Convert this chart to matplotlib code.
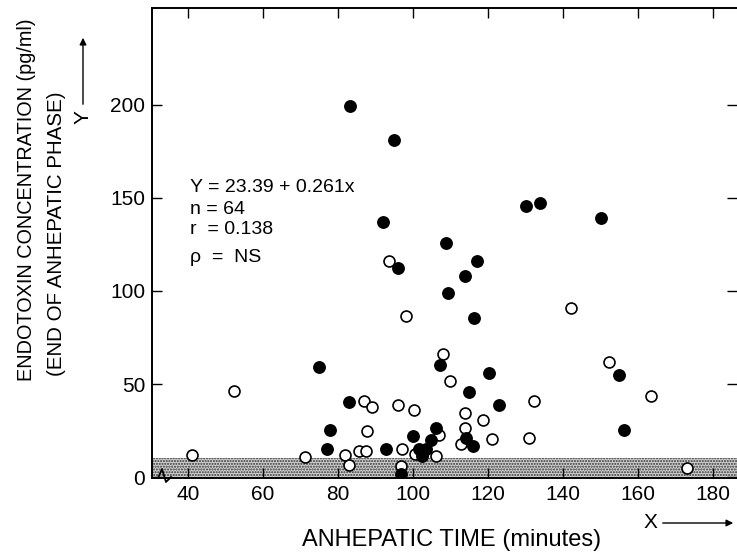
import matplotlib
matplotlib.use("Agg")
import matplotlib.pyplot as plt

plt.rcParams['font.family'] = ['Liberation Sans', 'DejaVu Sans']

# filled circles
filled_x = [83.2, 94.9, 92.0, 130.1, 133.9, 150.1, 108.8, 96.0, 117.1, 113.9,
            109.3, 116.3, 107.2, 75.0, 154.9, 156.3, 122.9, 120.2, 114.9, 106.1,
            104.8, 114.1, 116.0, 82.9, 77.9, 100.0, 77.0, 92.8, 101.6, 103.5,
            102.5, 96.8]
filled_y = [199.5, 181, 137, 145.7, 147.3, 139.2, 125.8, 112.4, 116.1, 108,
            98.9, 85.5, 60.2, 59.1, 54.8, 25.3, 38.7, 55.9, 45.7, 26.5,
            20, 21, 16.6, 40.3, 25.3, 22, 15, 15, 15, 15,
            11.5, 1.6]

# open circles
open_x = [93.6, 98.1, 108.0, 142.1, 152.3, 163.5, 173.1, 132.3, 131.0, 109.9,
          113.9, 118.7, 113.9, 106.9, 112.8, 121.0, 106.1, 86.9, 89.1, 96.0,
          100.3, 87.7, 81.9, 85.6, 87.5, 97.0, 100.5, 71.2, 82.9, 96.8,
          52.3, 41.1]
open_y = [116, 86.6, 66.1, 90.9, 61.8, 43.5, 4.8, 40.9, 21, 51.6,
          34.4, 30.8, 26.2, 22.5, 17.7, 20.4, 11.3, 40.9, 37.6, 38.7,
          36, 24.7, 11.8, 14, 14, 15, 12.4, 10.8, 6.5, 6,
          46.2, 11.8]

x_ticks = [40, 60, 80, 100, 120, 140, 160, 180]
y_ticks = [0, 50, 100, 150, 200]
stats_lines = ["Y = 23.39 + 0.261x", "n = 64", "r  = 0.138", "\u03c1  =  NS"]

W, H = 737, 556
fig = plt.figure(figsize=(W / 100, H / 100), dpi=100)
ax = fig.add_axes([152 / W, (H - 478) / H, (W - 152) / W, 470 / H])

# normal range band
ax.axhspan(0, 10, facecolor='#d0d0d0', edgecolor='#333333', hatch='......', linewidth=0, zorder=0)

ax.scatter(open_x, open_y, s=62, facecolors='white', edgecolors='black', linewidths=1.2, zorder=3)
ax.scatter(filled_x, filled_y, s=68, color='black', zorder=4)

ax.set_xlim(30.4, 186.4)
ax.set_ylim(-0.5, 252)
ax.set_xticks(x_ticks)
ax.set_yticks(y_ticks)
ax.tick_params(direction='in', top=True, right=True, length=7, width=1,
               labelsize=15, pad=5)
ax.spines['right'].set_visible(False)
for s in ['left', 'bottom', 'top']:
    ax.spines[s].set_linewidth(1.4)

# axis break mark
ax.plot([0.0103, 0.0171, 0.0239, 0.0325], [0.0, 0.019, -0.0085, 0.002],
        transform=ax.transAxes, color='black', lw=1.3, clip_on=False, zorder=5)

for i, line in enumerate(stats_lines):
    ax.text(190, H - 188 - i * 21 - (6 if i == 3 else 0), line, transform=None,
            fontsize=14, va='center', ha='left')

fig.text(27 / W, 1 - 200 / H, "ENDOTOXIN CONCENTRATION (pg/ml)", rotation=90,
         ha='center', va='center', fontsize=14.3)
fig.text(57 / W, 1 - 234 / H, "(END OF ANHEPATIC PHASE)", rotation=90,
         ha='center', va='center', fontsize=14.8)
fig.text(452 / W, 1 - 540 / H, "ANHEPATIC TIME (minutes)", ha='center', va='center', fontsize=17)

# Y / X direction arrows
fig.text(83 / W, 1 - 117 / H, "Y", rotation=90, ha='center', va='center', fontsize=15)
ax.annotate("", xy=(83, H - 35), xytext=(83, H - 107), xycoords='figure pixels',
            textcoords='figure pixels', arrowprops=dict(arrowstyle='-|>', color='black', lw=1, mutation_scale=10))
fig.text(650 / W, 1 - 523 / H, "X", ha='center', va='center', fontsize=15)
ax.annotate("", xy=(736, H - 523), xytext=(660, H - 523), xycoords='figure pixels',
            textcoords='figure pixels', arrowprops=dict(arrowstyle='-|>', color='black', lw=1, mutation_scale=10))

fig.savefig("out.png", dpi=100)
